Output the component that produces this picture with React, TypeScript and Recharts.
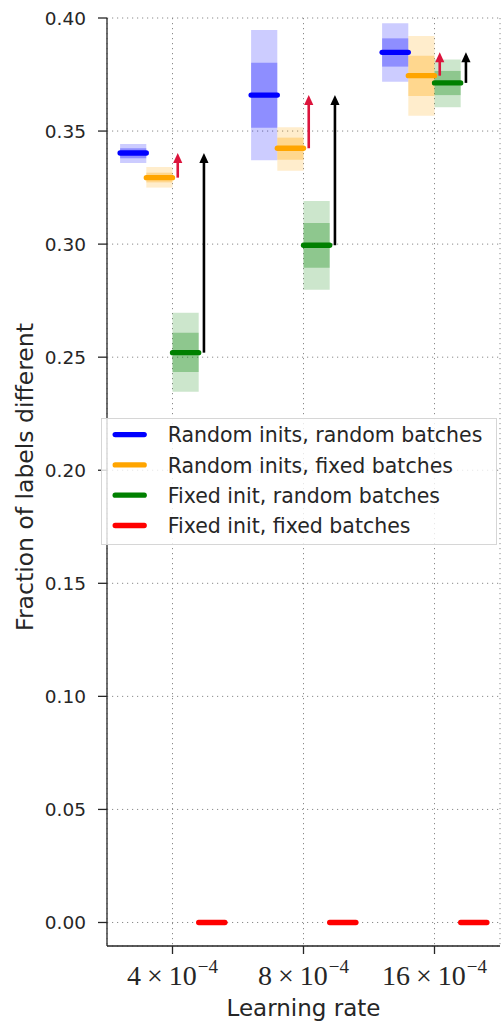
import React from 'react';
import {
  ComposedChart,
  XAxis,
  YAxis,
  CartesianGrid,
  ReferenceArea,
  ReferenceLine,
} from 'recharts';

// learning rates, as mantissas of ×10^-4, one group per rate
const rateMantissas = [4, 8, 16];
const groupPos = [0, 1, 2];

const seriesNames = [
  'Random inits, random batches',
  'Random inits, fixed batches',
  'Fixed init, random batches',
  'Fixed init, fixed batches',
];
const seriesColors = ['#0000ff', '#ffa500', '#008000', '#ff0000'];
const seriesOffsets = [-0.3, -0.1, 0.1, 0.3];

// mean fraction of labels that differ
const blueMean = [0.3403, 0.3659, 0.3848];
const orangeMean = [0.3294, 0.3424, 0.3745];
const greenMean = [0.252, 0.2995, 0.3713];
const redMean = [0, 0, 0];

// ± one std
const blueStdLo = [0.338, 0.3515, 0.3785];
const blueStdHi = [0.3424, 0.3802, 0.391];
const orangeStdLo = [0.3273, 0.3373, 0.3655];
const orangeStdHi = [0.3316, 0.3471, 0.3833];
const greenStdLo = [0.2434, 0.2896, 0.3659];
const greenStdHi = [0.2608, 0.3093, 0.3766];

// min / max over runs
const blueMin = [0.3359, 0.3371, 0.3718];
const blueMax = [0.3443, 0.3947, 0.3977];
const orangeMin = [0.325, 0.3325, 0.3568];
const orangeMax = [0.3341, 0.3517, 0.392];
const greenMin = [0.2347, 0.2798, 0.3605];
const greenMax = [0.2697, 0.3191, 0.3817];

const yTicks = [0, 0.05, 0.1, 0.15, 0.2, 0.25, 0.3, 0.35, 0.4];
const yDomain = [-0.0104, 0.4];
const xDomain = [-0.5, 2.5];

const means = [blueMean, orangeMean, greenMean, redMean];
const bands = [
  { lo: blueMin, hi: blueMax, stdLo: blueStdLo, stdHi: blueStdHi },
  { lo: orangeMin, hi: orangeMax, stdLo: orangeStdLo, stdHi: orangeStdHi },
  { lo: greenMin, hi: greenMax, stdLo: greenStdLo, stdHi: greenStdHi },
];

const HALF = 0.1;
const ARROW_SHIFT = 0.14;
const INK = '#262626';
const FONT = '"DejaVu Sans", sans-serif';

const meanShape = (color: string) => (p: any) => (
  <line
    x1={p.x1}
    y1={p.y1}
    x2={p.x2}
    y2={p.y2}
    stroke={color}
    strokeWidth={5.3}
    strokeLinecap="round"
  />
);

const arrowShape = (color: string) => (p: any) => {
  const x = p.x1;
  const tip = Math.min(p.y1, p.y2);
  const tail = Math.max(p.y1, p.y2);
  const head = 10;
  const hw = 4.6;
  return (
    <g>
      <line x1={x} y1={tail} x2={x} y2={tip + head - 1} stroke={color} strokeWidth={2.6} />
      <polygon
        points={`${x},${tip} ${x - hw},${tip + head} ${x + hw},${tip + head}`}
        fill={color}
      />
    </g>
  );
};

// "m × 10^-4" set like mathtext, with room round the times sign
const XTick = (props: any) => {
  const { x, y, payload } = props;
  const m = rateMantissas[payload.value];
  return (
    <text
      x={x}
      y={y + 29}
      textAnchor="middle"
      fill={INK}
      fontFamily='"Liberation Serif", "DejaVu Serif", serif'
      fontSize={28}
    >
      <tspan>{m}</tspan>
      <tspan dx={6}>×</tspan>
      <tspan dx={6}>10</tspan>
      <tspan fontSize={19} dy={-12} dx={1}>
        −4
      </tspan>
    </text>
  );
};

const YTick = (props: any) => {
  const { x, y, payload } = props;
  return (
    <text x={x} y={y} dy="0.36em" textAnchor="end" fill={INK} fontFamily={FONT} fontSize={18.5}>
      {payload.value.toFixed(2)}
    </text>
  );
};

const EmptyTick = () => <g />;

const Legend = () => (
  <svg
    width={396}
    height={127}
    style={{ position: 'absolute', left: 101, top: 418, overflow: 'visible' }}
  >
    <rect
      x={0.5}
      y={0.5}
      width={395}
      height={126}
      fill="rgba(255,255,255,0.8)"
      stroke="#d6d6d6"
      strokeWidth={1}
    />
    {seriesNames.map((name, i) => (
      <g key={name}>
        <line
          x1={14.2}
          x2={43.2}
          y1={16.6 + i * 30.3}
          y2={16.6 + i * 30.3}
          stroke={seriesColors[i]}
          strokeWidth={5.3}
          strokeLinecap="round"
        />
        <text x={66.7} y={24.3 + i * 30.3} fill={INK} fontFamily={FONT} fontSize={20.5}>
          {name}
        </text>
      </g>
    ))}
  </svg>
);

export default function App() {
  return (
    <div style={{ position: 'absolute', left: 0, top: 0, width: 501, height: 1024, background: '#fff' }}>
      <ComposedChart width={501} height={1024} margin={{ top: 18, right: 1, bottom: 0, left: 0 }}>
        <CartesianGrid stroke="#8a8a8a" strokeDasharray="1.2 3.8" />
        <XAxis
          type="number"
          dataKey="x"
          domain={xDomain}
          ticks={groupPos}
          allowDataOverflow
          height={78}
          axisLine={{ stroke: INK, strokeWidth: 1.3 }}
          tickLine={{ stroke: INK, strokeWidth: 1.3 }}
          tickSize={8}
          tickMargin={2}
          tick={<XTick />}
          label={{
            content: (p: any) => (
              <text
                x={p.viewBox.x + p.viewBox.width / 2}
                y={p.viewBox.y + 70}
                textAnchor="middle"
                fill={INK}
                fontFamily={FONT}
                fontSize={23}
              >
                Learning rate
              </text>
            ),
          }}
        />
        <XAxis
          xAxisId="top"
          orientation="top"
          type="number"
          domain={xDomain}
          ticks={groupPos}
          allowDataOverflow
          height={0}
          axisLine={{ stroke: INK, strokeWidth: 1.3 }}
          tickLine={{ stroke: INK, strokeWidth: 1.3 }}
          tickSize={8}
          tick={<EmptyTick />}
        />
        <YAxis
          type="number"
          domain={yDomain}
          ticks={yTicks}
          allowDataOverflow
          width={107}
          axisLine={{ stroke: INK, strokeWidth: 1.3 }}
          tickLine={{ stroke: INK, strokeWidth: 1.3 }}
          tickSize={9}
          tickMargin={12}
          tick={<YTick />}
          label={{
            content: () => (
              <text
                x={33}
                y={477}
                transform="rotate(-90, 33, 477)"
                textAnchor="middle"
                fill={INK}
                fontFamily={FONT}
                fontSize={23.5}
              >
                Fraction of labels different
              </text>
            ),
          }}
        />
        <YAxis
          yAxisId="right"
          orientation="right"
          type="number"
          domain={yDomain}
          ticks={yTicks}
          allowDataOverflow
          width={0}
          axisLine={{ stroke: INK, strokeWidth: 1.3 }}
          tickLine={{ stroke: INK, strokeWidth: 1.3 }}
          tickSize={8}
          tick={<EmptyTick />}
        />

        {/* min-max band, then the std band on top of it */}
        {bands.map((b, s) =>
          groupPos.map((g, i) => {
            const cx = g + seriesOffsets[s];
            return (
              <React.Fragment key={`band-${s}-${i}`}>
                <ReferenceArea
                  x1={cx - HALF}
                  x2={cx + HALF}
                  y1={b.lo[i]}
                  y2={b.hi[i]}
                  fill={seriesColors[s]}
                  fillOpacity={0.2}
                  stroke="none"
                />
                <ReferenceArea
                  x1={cx - HALF}
                  x2={cx + HALF}
                  y1={b.stdLo[i]}
                  y2={b.stdHi[i]}
                  fill={seriesColors[s]}
                  fillOpacity={0.3}
                  stroke="none"
                />
              </React.Fragment>
            );
          })
        )}

        {means.map((m, s) =>
          groupPos.map((g, i) => {
            const cx = g + seriesOffsets[s];
            return (
              <ReferenceLine
                key={`mean-${s}-${i}`}
                segment={[
                  { x: cx - HALF, y: m[i] },
                  { x: cx + HALF, y: m[i] },
                ]}
                shape={meanShape(seriesColors[s])}
              />
            );
          })
        )}

        {/* gap to the random-init baseline */}
        {groupPos.map((g, i) => (
          <React.Fragment key={`arrows-${i}`}>
            <ReferenceLine
              segment={[
                { x: g + seriesOffsets[1] + ARROW_SHIFT, y: orangeMean[i] },
                { x: g + seriesOffsets[1] + ARROW_SHIFT, y: blueMean[i] },
              ]}
              shape={arrowShape('#dc143c')}
            />
            <ReferenceLine
              segment={[
                { x: g + seriesOffsets[2] + ARROW_SHIFT, y: greenMean[i] },
                { x: g + seriesOffsets[2] + ARROW_SHIFT, y: blueMean[i] },
              ]}
              shape={arrowShape('#000000')}
            />
          </React.Fragment>
        ))}
      </ComposedChart>
      <Legend />
    </div>
  );
}
